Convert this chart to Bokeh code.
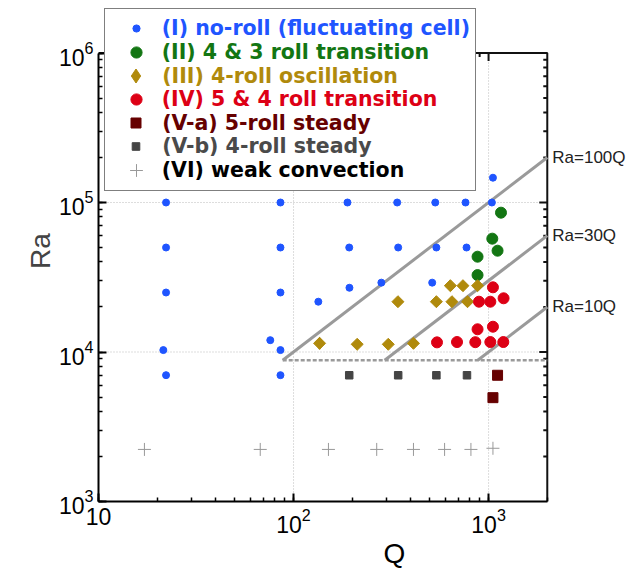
import numpy as np
from bokeh.plotting import figure
from bokeh.models import Legend, LegendItem, Label, Title
from bokeh.embed import file_html
from bokeh.resources import INLINE

# ---------------- data ----------------
PLOT_Q = (10, 2000)          # axis limits of the diagram
PLOT_RA = (1e3, 1e6)
VIEW_Q_MAX = 5470            # drawing area extends right/up for the annotations
VIEW_RA_MAX = 2.245e6

# (I) no-roll (fluctuating cell)
Q_I = [22.2, 22.2, 22.2, 21.5, 22.2, 85.7, 85.7, 85.7, 85.7, 85.7, 76,
       189, 193, 193.5, 134, 282, 340, 344, 533, 540, 762, 771, 1040, 1053, 514]
RA_I = [1e5, 5e4, 2.5e4, 1.03e4, 7e3, 1e5, 5e4, 2.5e4, 1.03e4, 7e3, 1.2e4,
        1e5, 5e4, 2.69e4, 2.17e4, 2.91e4, 1e5, 5e4, 1e5, 5e4, 1e5, 5e4, 1e5, 1.465e5, 2.91e4]
# (II) 4 & 3 roll transition
Q_II = [1158, 1045, 1112, 878, 878]
RA_II = [8.55e4, 5.73e4, 4.76e4, 4.34e4, 3.27e4]
# (III) 4-roll oscillation
Q_III = [136, 212, 306, 412, 343, 540, 649, 780, 637, 739, 878]
RA_III = [1.143e4, 1.126e4, 1.126e4, 1.143e4, 2.17e4, 2.17e4, 2.17e4, 2.17e4, 2.777e4, 2.777e4, 2.777e4]
# (IV) 5 & 4 roll transition
Q_IV = [1053, 893, 1021, 1194, 878, 1053, 544, 689, 855, 1021, 1190]
RA_IV = [2.709e4, 2.17e4, 2.17e4, 2.287e4, 1.419e4, 1.476e4, 1.16e4, 1.166e4, 1.163e4, 1.166e4, 1.166e4]
# (V-a) 5-roll steady
Q_VA = [1112, 1053]
RA_VA = [6.99e3, 4.95e3]
# (V-b) 4-roll steady
Q_VB = [193, 344, 540, 775]
RA_VB = [6.99e3, 6.99e3, 6.99e3, 6.99e3]
# (VI) weak convection
Q_VI = [17.2, 67.5, 151, 267, 412, 595, 812, 1053]
RA_VI = [2230, 2230, 2230, 2230, 2230, 2230, 2230, 2270]

RA_C = 8800                      # onset (dashed line)
SLOPES = [100, 30, 10]           # Ra = k Q
SLOPE_LABELS = ["Ra=100Q", "Ra=30Q", "Ra=10Q"]

LEGEND_LABELS = ["(I) no-roll (fluctuating cell)", "(II) 4 & 3 roll transition",
                 "(III) 4-roll oscillation", "(IV) 5 & 4 roll transition",
                 "(V-a) 5-roll steady", "(V-b) 4-roll steady", "(VI) weak convection"]

C_I, C_II, C_III, C_IV = "#1f55ff", "#137613", "#b08a0c", "#dd0015"
C_VA, C_VB, C_VI = "#660000", "#444444", "#999999"
TXT_COLORS = [C_I, C_II, C_III, C_IV, C_VA, "#4a4a4a", "#000000"]
FRAME_COLOR = "#111111"

FONT = "Liberation Sans"

# ---------------- figure ----------------
p = figure(width=632, height=568, x_axis_type="log", y_axis_type="log",
           x_range=(PLOT_Q[0], VIEW_Q_MAX), y_range=(PLOT_RA[0], VIEW_RA_MAX),
           output_backend="svg", toolbar_location=None,
           min_border_left=98, min_border_right=0, min_border_top=0,
           min_border_bottom=67)
p.outline_line_color = None
p.background_fill_color = "white"
p.xgrid.visible = False
p.ygrid.visible = False

xa, ya = p.xaxis[0], p.yaxis[0]
xa.bounds = PLOT_Q
ya.bounds = PLOT_RA
xa.major_label_overrides = {10: "10"}
for ax in (xa, ya):
    ax.axis_line_width = 2
    ax.axis_line_color = "black"
    ax.major_tick_in = 8
    ax.major_tick_out = 0
    ax.minor_tick_in = 4
    ax.minor_tick_out = 0
    ax.major_tick_line_width = 2
    ax.minor_tick_line_width = 1.5
    ax.major_label_text_font = FONT
    ax.major_label_text_font_size = "23px"
    ax.major_label_text_color = "black"
    ax.major_label_standoff = 5
xa.major_label_standoff = 6

ya.axis_label = "Ra"
ya.axis_label_text_font = FONT
ya.axis_label_text_font_size = "28px"
ya.axis_label_text_font_style = "normal"
ya.axis_label_standoff = 0

p.add_layout(Title(text="Q", align="left", offset=285, text_font=FONT,
                   text_font_size="28px", text_font_style="normal",
                   text_color="black", standoff=0), "below")

# ---------------- grid (dotted, major decades only) ----------------
GRID_Q = [100, 1000]
GRID_RA = [1e4, 1e5]
p.segment(x0=GRID_Q, y0=[PLOT_RA[0]] * 2, x1=GRID_Q, y1=[PLOT_RA[1]] * 2,
          line_color="#bbbbbb", line_width=1, line_dash="1 2")
p.segment(x0=[PLOT_Q[0]] * 2, y0=GRID_RA, x1=[PLOT_Q[1]] * 2, y1=GRID_RA,
          line_color="#bbbbbb", line_width=1, line_dash="1 2")

# ---------------- top / right frame with inward ticks ----------------
q_dec = [10, 100]
ra_dec = [1e3, 1e4, 1e5]
top_major = [d * 10 for d in q_dec]
top_minor = [m * d for d in q_dec for m in range(2, 10)]
right_major = [d * 10 for d in ra_dec[:-1]]
right_minor = [m * d for d in ra_dec for m in range(2, 10)]
PX_PER_DEC_Y, PX_PER_DEC_X = 149.5, 195.0
fy = lambda px: 10 ** (-px / PX_PER_DEC_Y)
fx = lambda px: 10 ** (-px / PX_PER_DEC_X)

xs = [[PLOT_Q[0], PLOT_Q[1], PLOT_Q[1]]]
ys = [[PLOT_RA[1], PLOT_RA[1], PLOT_RA[0]]]
for q in top_major:
    xs.append([q, q]); ys.append([PLOT_RA[1], PLOT_RA[1] * fy(8)])
for q in top_minor:
    xs.append([q, q]); ys.append([PLOT_RA[1], PLOT_RA[1] * fy(4)])
for r in right_major:
    xs.append([PLOT_Q[1], PLOT_Q[1] * fx(8)]); ys.append([r, r])
for r in right_minor:
    xs.append([PLOT_Q[1], PLOT_Q[1] * fx(4)]); ys.append([r, r])
p.multi_line(xs=xs, ys=ys, line_color=FRAME_COLOR, line_width=2)

# ---------------- lines ----------------
for k in SLOPES:
    p.line([RA_C / k, PLOT_Q[1]], [RA_C, k * PLOT_Q[1]],
           line_color="#9a9a9a", line_width=3)
p.line([RA_C / SLOPES[0], PLOT_Q[1]], [RA_C, RA_C],
       line_color="#9a9a9a", line_width=2.5, line_dash="4 2")

# ---------------- markers ----------------
dummy = p.scatter(x=[PLOT_Q[0]], y=[PLOT_RA[0]], marker="circle", size=1, alpha=0)
r_III_key = p.scatter(Q_III[:1], RA_III[:1], marker="diamond", size=12, color=C_III)
r_I = p.scatter(Q_I, RA_I, marker="circle", size=7, color=C_I)
r_II = p.scatter(Q_II, RA_II, marker="circle", size=11, color=C_II)
r_III = p.scatter(Q_III, RA_III, marker="square", angle=np.pi / 4, size=8.5, color=C_III)
r_IV = p.scatter(Q_IV, RA_IV, marker="circle", size=11, color=C_IV)
r_VA = p.scatter(Q_VA, RA_VA, marker="square", size=10, color=C_VA)
r_VB = p.scatter(Q_VB, RA_VB, marker="square", size=7.5, color=C_VB)
r_VI = p.scatter(Q_VI, RA_VI, marker="cross", size=13, line_color=C_VI, line_width=1)

# slope labels at right edge
for k, t in zip(SLOPES, SLOPE_LABELS):
    p.add_layout(Label(x=PLOT_Q[1], y=k * PLOT_Q[1], text=t, x_offset=5,
                       text_baseline="middle", text_font=FONT,
                       text_font_size="17px", text_color="#222222"))

# ---------------- legend ----------------
box = Legend(items=[LegendItem(label=" ", renderers=[dummy])], location=(6, 310),
             padding=0, margin=0, glyph_width=369, glyph_height=181,
             label_width=1, label_height=1, label_standoff=0, label_text_alpha=0,
             border_line_color="black", border_line_width=1.5,
             background_fill_color="white", background_fill_alpha=1)
p.add_layout(box)

ROW0, PITCH = 501 - 28.3, 23.6
GLYPH_CX, TEXT_X = 37.7, 64.0
rows = [(r_I, 7), (r_II, 11), (r_III_key, 14), (r_IV, 11), (r_VA, 10), (r_VB, 7.5), (r_VI, 13)]
for i, (rend, msize) in enumerate(rows):
    gw = int(round(msize / 0.4))
    H = max(gw, 24)
    cy = ROW0 - i * PITCH
    leg = Legend(items=[LegendItem(label=LEGEND_LABELS[i], renderers=[rend])],
                 location=(GLYPH_CX - gw / 2, cy - H / 2),
                 padding=0, margin=0, spacing=0,
                 glyph_width=gw, glyph_height=H, label_height=24,
                 label_standoff=int(round(TEXT_X - (GLYPH_CX + gw / 2))),
                 label_text_font="DejaVu Sans", label_text_font_style="bold",
                 label_text_font_size="20.5px", label_text_color=TXT_COLORS[i],
                 border_line_alpha=0, background_fill_alpha=0)
    p.add_layout(leg)

open("out.html", "w").write(file_html(p, INLINE))
